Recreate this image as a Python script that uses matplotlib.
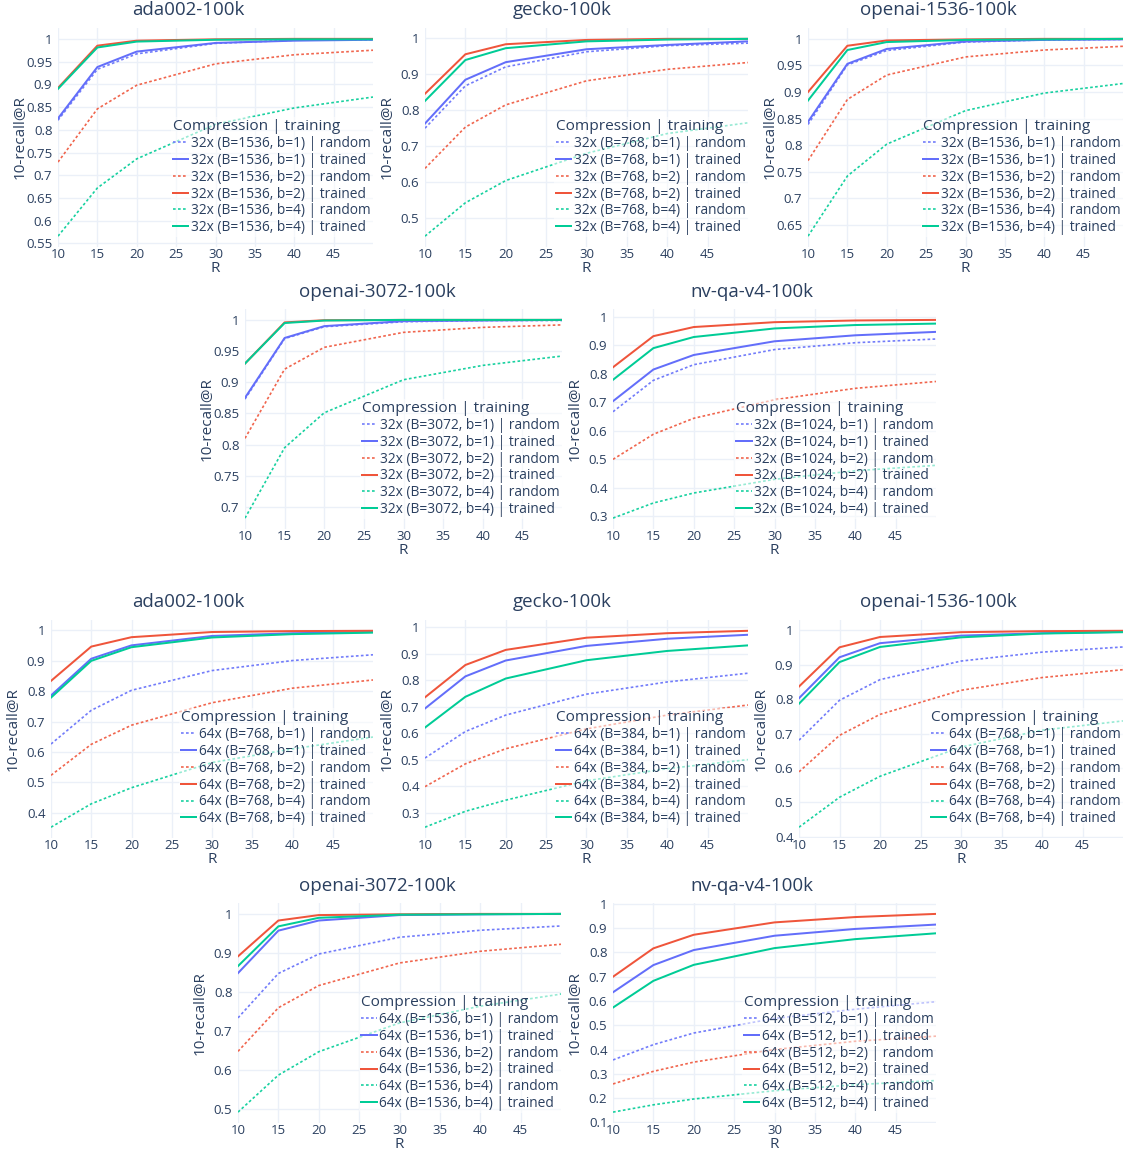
import matplotlib
matplotlib.use("Agg")
import matplotlib.pyplot as plt
from matplotlib.ticker import MultipleLocator, FuncFormatter

plt.rcParams["font.family"] = ["Open Sans", "DejaVu Sans"]

# -- data ---------------------------------------------------------------------
R = [10, 15, 20, 30, 40, 50]
SERIES = ["b=1) | random", "b=1) | trained", "b=2) | random",
          "b=2) | trained", "b=4) | random", "b=4) | trained"]

# order: b1 random, b1 trained, b2 random, b2 trained, b4 random, b4 trained
ADA002_32X = [
    [0.821, 0.933, 0.967, 0.990, 0.997, 0.998],
    [0.825, 0.938, 0.972, 0.991, 0.996, 0.998],
    [0.729, 0.846, 0.898, 0.945, 0.965, 0.975],
    [0.892, 0.985, 0.996, 0.999, 1.000, 1.000],
    [0.566, 0.672, 0.736, 0.812, 0.848, 0.872],
    [0.890, 0.981, 0.994, 0.998, 0.999, 0.999],
]
GECKO_32X = [
    [0.750, 0.868, 0.921, 0.963, 0.980, 0.987],
    [0.763, 0.885, 0.934, 0.970, 0.982, 0.992],
    [0.638, 0.753, 0.815, 0.882, 0.914, 0.933],
    [0.846, 0.956, 0.984, 0.996, 0.999, 0.999],
    [0.449, 0.542, 0.604, 0.680, 0.735, 0.765],
    [0.826, 0.940, 0.973, 0.992, 0.997, 0.999],
]
OPENAI1536_32X = [
    [0.839, 0.951, 0.978, 0.994, 0.998, 0.999],
    [0.844, 0.953, 0.981, 0.995, 0.998, 0.999],
    [0.771, 0.886, 0.932, 0.966, 0.979, 0.986],
    [0.900, 0.987, 0.997, 0.999, 1.000, 1.000],
    [0.629, 0.742, 0.802, 0.865, 0.898, 0.916],
    [0.884, 0.979, 0.994, 0.998, 0.999, 1.000],
]
OPENAI3072_32X = [
    [0.873, 0.970, 0.989, 0.997, 0.999, 0.999],
    [0.875, 0.971, 0.990, 0.998, 0.999, 1.000],
    [0.810, 0.921, 0.956, 0.980, 0.988, 0.992],
    [0.930, 0.996, 0.9995, 1.000, 1.000, 1.000],
    [0.682, 0.795, 0.851, 0.904, 0.927, 0.942],
    [0.930, 0.995, 0.999, 1.000, 1.000, 1.000],
]
NVQA_32X = [
    [0.667, 0.777, 0.832, 0.885, 0.909, 0.922],
    [0.704, 0.815, 0.866, 0.914, 0.935, 0.947],
    [0.500, 0.588, 0.644, 0.709, 0.749, 0.773],
    [0.823, 0.932, 0.964, 0.981, 0.987, 0.989],
    [0.294, 0.347, 0.382, 0.430, 0.460, 0.479],
    [0.779, 0.890, 0.929, 0.959, 0.971, 0.976],
]
ADA002_64X = [
    [0.626, 0.737, 0.803, 0.868, 0.901, 0.920],
    [0.786, 0.907, 0.951, 0.982, 0.991, 0.995],
    [0.523, 0.625, 0.688, 0.762, 0.810, 0.837],
    [0.834, 0.947, 0.978, 0.995, 0.998, 0.999],
    [0.352, 0.429, 0.482, 0.565, 0.610, 0.649],
    [0.779, 0.900, 0.945, 0.977, 0.988, 0.993],
]
GECKO_64X = [
    [0.506, 0.606, 0.668, 0.747, 0.793, 0.826],
    [0.693, 0.814, 0.874, 0.929, 0.956, 0.971],
    [0.398, 0.484, 0.541, 0.616, 0.668, 0.706],
    [0.735, 0.857, 0.914, 0.960, 0.977, 0.986],
    [0.245, 0.305, 0.347, 0.420, 0.466, 0.500],
    [0.621, 0.737, 0.806, 0.875, 0.910, 0.931],
]
OPENAI1536_64X = [
    [0.681, 0.797, 0.857, 0.911, 0.937, 0.952],
    [0.803, 0.922, 0.963, 0.985, 0.992, 0.996],
    [0.589, 0.695, 0.756, 0.826, 0.863, 0.886],
    [0.837, 0.951, 0.981, 0.995, 0.998, 0.999],
    [0.428, 0.515, 0.576, 0.661, 0.710, 0.737],
    [0.787, 0.908, 0.952, 0.980, 0.991, 0.995],
]
OPENAI3072_64X = [
    [0.733, 0.847, 0.897, 0.940, 0.958, 0.969],
    [0.848, 0.957, 0.983, 0.997, 0.999, 1.000],
    [0.647, 0.759, 0.816, 0.874, 0.904, 0.922],
    [0.891, 0.983, 0.997, 0.999, 1.000, 1.000],
    [0.491, 0.586, 0.646, 0.720, 0.763, 0.794],
    [0.866, 0.968, 0.990, 0.998, 0.999, 1.000],
]
NVQA_64X = [
    [0.357, 0.420, 0.468, 0.528, 0.566, 0.597],
    [0.636, 0.748, 0.810, 0.869, 0.897, 0.915],
    [0.258, 0.310, 0.348, 0.400, 0.434, 0.455],
    [0.700, 0.817, 0.873, 0.924, 0.946, 0.959],
    [0.142, 0.172, 0.196, 0.230, 0.255, 0.272],
    [0.573, 0.683, 0.749, 0.818, 0.855, 0.879],
]

# -- style --------------------------------------------------------------------
W, H = 1123, 1153
TXT = "#2a3f5f"
GRID = "#EBF0F8"
COLORS = ["#636EFA", "#636EFA", "#EF553B", "#EF553B", "#00CC96", "#00CC96"]
LW = 2 * 72 / 100

# title, data, prefix, cell centre x, title y, plot rect (left, right, top, bottom) px, y step
PANELS = [
    ("ada002-100k",      ADA002_32X,     "32x (B=1536, ", 188, 10,  (58, 373, 28, 247), 0.05),
    ("gecko-100k",       GECKO_32X,      "32x (B=768, ",  562, 10,  (425, 748, 28, 247), 0.1),
    ("openai-1536-100k", OPENAI1536_32X, "32x (B=1536, ", 938, 10,  (808, 1123, 28, 247), 0.05),
    ("openai-3072-100k", OPENAI3072_32X, "32x (B=3072, ", 377, 292, (245, 562, 309, 529), 0.05),
    ("nv-qa-v4-100k",    NVQA_32X,       "32x (B=1024, ", 752, 292, (613, 936, 309, 529), 0.1),
    ("ada002-100k",      ADA002_64X,     "64x (B=768, ",  188, 602, (51, 373, 620, 838), 0.1),
    ("gecko-100k",       GECKO_64X,      "64x (B=384, ",  562, 602, (425, 748, 620, 838), 0.1),
    ("openai-1536-100k", OPENAI1536_64X, "64x (B=768, ",  938, 602, (799, 1123, 620, 838), 0.1),
    ("openai-3072-100k", OPENAI3072_64X, "64x (B=1536, ", 377, 886, (238, 561, 903, 1123), 0.1),
    ("nv-qa-v4-100k",    NVQA_64X,       "64x (B=512, ",  752, 886, (613, 936, 903, 1123), 0.1),
]

fig = plt.figure(figsize=(W / 100, H / 100), dpi=100)
fig.patch.set_facecolor("white")

for title, data, prefix, cx, ty, (l, r, t, b), ystep in PANELS:
    ax = fig.add_axes([l / W, 1 - b / H, (r - l) / W, (b - t) / H])
    wpx, hpx = r - l, b - t
    for i, (ys, name) in enumerate(zip(data, SERIES)):
        random = i % 2 == 0
        ax.plot(R, ys, color=COLORS[i],
                lw=1.2 if random else LW,
                linestyle=(0, (1.6, 1.4)) if random else "-",
                alpha=0.9 if random else 1.0,
                label=prefix + name)

    ax.set_xlim(10, 50)
    ax.margins(x=0, y=0.055)
    ax.set_xticks([10, 15, 20, 25, 30, 35, 40, 45])
    ax.yaxis.set_major_locator(MultipleLocator(ystep))
    ax.yaxis.set_major_formatter(FuncFormatter(lambda v, p: f"{v:g}"))
    ax.grid(True, color=GRID, lw=1)
    ax.set_axisbelow(True)
    for s in ax.spines.values():
        s.set_visible(False)
    ax.tick_params(length=0, labelsize=9.5, labelcolor=TXT)
    ax.tick_params(axis="x", pad=1)
    ax.tick_params(axis="y", pad=4)

    ax.set_xlabel("R", fontsize=11, color=TXT)
    ax.xaxis.set_label_coords(0.5, -14 / hpx)
    ax.set_ylabel("10-recall@R", fontsize=11, color=TXT)
    ax.yaxis.set_label_coords(-30 / wpx, 0.5)

    leg = ax.legend(loc="lower right", bbox_to_anchor=(1.0, 0.045),
                    title="Compression | training", alignment="left",
                    fontsize=9.9, title_fontsize=11.1,
                    frameon=True, facecolor="white", framealpha=0.55,
                    edgecolor="none", borderpad=0.15, labelspacing=0.13,
                    handlelength=1.1, handletextpad=0.2, borderaxespad=0)
    leg.get_title().set_color(TXT)
    for txt in leg.get_texts():
        txt.set_color(TXT)

    fig.text(cx / W, 1 - ty / H, title, ha="center", va="center",
             fontsize=13.5, color=TXT)

fig.savefig("out.png", dpi=100, facecolor="white")
